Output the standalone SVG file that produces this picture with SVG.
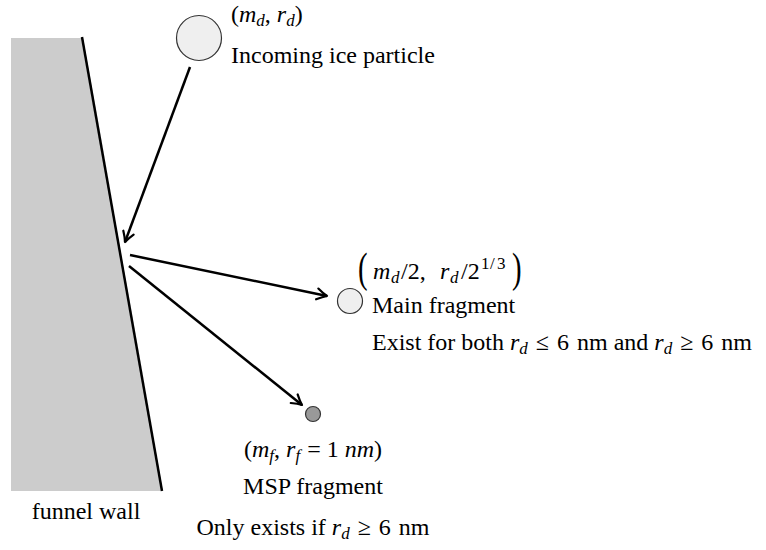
<svg xmlns="http://www.w3.org/2000/svg" width="766" height="550" viewBox="0 0 766 550">
<style>
text{font-family:"Liberation Serif","Times New Roman",serif;font-size:24px;fill:#000}
.i{font-style:italic}
.s{font-size:17px;font-style:italic}
.u{font-size:17px}
.c{text-anchor:middle}
.arr{stroke:#000;stroke-width:2.5;fill:none;marker-end:url(#ah)}
.pt{stroke:#333;stroke-width:1.2}
</style>
<defs>
<marker id="ah" markerUnits="userSpaceOnUse" viewBox="-12 -8 14 16" refX="0" refY="0" markerWidth="14" markerHeight="16" orient="auto">
<path d="M-10,-5.5 Q-4,-1.5 0,0 Q-4,1.5 -10,5.5" fill="none" stroke="#000" stroke-width="2.2" stroke-linecap="round" stroke-linejoin="round"/>
</marker>
</defs>
<g id="wall">
<polygon points="11,38 82,38 162,491 11,491" fill="#cccccc"/>
<line x1="82" y1="37" x2="162" y2="491" stroke="#000" stroke-width="2.5"/>
<text x="86" y="519" class="c">funnel wall</text>
</g>
<g id="connectors">
<line class="arr" x1="190" y1="67" x2="125" y2="242"/>
<line class="arr" x1="130" y1="255" x2="327" y2="296"/>
<line class="arr" x1="129" y1="266" x2="302" y2="405"/>
</g>
<g id="incoming">
<circle cx="199" cy="38" r="22.5" fill="#efefef" class="pt"/>
<text x="231" y="22">(<tspan class="i">m</tspan><tspan class="s" dy="4">d</tspan><tspan dy="-4">, </tspan><tspan class="i">r</tspan><tspan class="s" dy="4">d</tspan><tspan dy="-4">)</tspan></text>
<text x="231" y="63">Incoming ice particle</text>
</g>
<g id="main">
<circle cx="350" cy="301" r="12.5" fill="#efefef" class="pt"/>
<text transform="translate(358,282) scale(1.2,1.8)">(</text>
<text y="279"><tspan x="373" class="i">m</tspan><tspan x="391" class="s" dy="4">d</tspan><tspan x="401" dy="-4">/2,</tspan><tspan x="440" class="i">r</tspan><tspan x="450" class="s" dy="4">d</tspan><tspan x="461" dy="-4">/2</tspan><tspan x="481" class="u" dy="-10">1</tspan><tspan x="490" class="u">/</tspan><tspan x="497" class="u">3</tspan></text>
<text transform="translate(512,282) scale(1.2,1.8)">)</text>
<text x="372" y="313">Main fragment</text>
<text x="372" y="350">Exist for both <tspan class="i">r</tspan><tspan class="s" dy="4">d</tspan><tspan dx="8" dy="-4">≤</tspan><tspan dx="8">6</tspan><tspan dx="8">nm and </tspan><tspan class="i">r</tspan><tspan class="s" dy="4">d</tspan><tspan dx="8" dy="-4">≥</tspan><tspan dx="8">6</tspan><tspan dx="8">nm</tspan></text>
</g>
<g id="msp">
<circle cx="313" cy="414" r="7.5" fill="#999999" class="pt"/>
<text x="313" y="457" class="c">(<tspan class="i">m</tspan><tspan class="s" dy="4">f</tspan><tspan dy="-4">, </tspan><tspan class="i">r</tspan><tspan class="s" dy="4">f</tspan><tspan dx="7" dy="-4">=</tspan><tspan dx="6">1 </tspan><tspan class="i">nm</tspan>)</text>
<text x="313" y="494" class="c">MSP fragment</text>
<text x="313" y="535" class="c">Only exists if <tspan class="i">r</tspan><tspan class="s" dy="4">d</tspan><tspan dx="8" dy="-4">≥</tspan><tspan dx="8">6</tspan><tspan dx="8">nm</tspan></text>
</g>
</svg>
